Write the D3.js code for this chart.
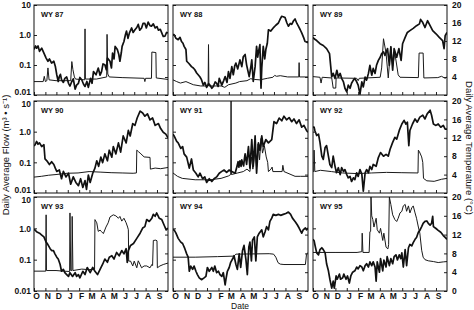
<!DOCTYPE html>
<html>
<head>
<meta charset="utf-8">
<script src="https://cdnjs.cloudflare.com/ajax/libs/d3/7.8.5/d3.min.js"></script>
<style>
    body { margin: 0; background: #fff; }
    svg { display: block; }
    text { font-family: "Liberation Sans", Arial, sans-serif; }
</style>
</head>
<body>
<div id="chart"></div>
<script>
// water years and axis labels
var years = ["WY 87", "WY 88", "WY 89", "WY 90", "WY 91", "WY 92", "WY 93", "WY 94", "WY 95"];
var months = ["O", "N", "D", "J", "F", "M", "A", "M", "J", "J", "A", "S"];
var monthStarts = [0, 31, 61, 92, 123, 151, 182, 212, 243, 273, 304, 335];
var flowTicks = [0.01, 0.1, 1, 10];
var flowTickLabels = ["0.01", "0.1", "1.0", "10"];
var tempTicks = [0, 4, 8, 12, 16, 20];

// daily average temperature (deg C), [day of water year, value]
var temp87 = [[0,10.1],[4,10.9],[7,10.4],[11,10.9],[15,9.7],[21,10.4],[27,9.3],[33,8.2],[38,7.5],[42,8.0],[48,7.1],[54,7.5],[58,6.4],[62,4.5],[66,3.0],[69,4.1],[72,4.6],[75,3.4],[80,2.8],[84,3.7],[89,4.0],[94,2.6],[98,2.0],[103,3.0],[107,3.6],[112,1.3],[116,2.2],[121,2.6],[125,3.9],[130,3.4],[135,2.4],[139,1.9],[144,3.0],[148,1.7],[154,3.7],[158,2.6],[162,5.2],[169,4.5],[175,6.0],[180,4.4],[184,5.2],[188,6.9],[193,6.7],[197,5.6],[200,8.2],[207,7.5],[211,6.0],[214,9.3],[218,8.0],[221,10.8],[227,10.1],[231,9.0],[234,7.5],[238,9.5],[240,10.8],[245,11.9],[249,13.4],[252,14.2],[256,12.6],[260,13.8],[266,14.9],[270,13.9],[275,14.5],[280,15.0],[284,15.7],[288,14.4],[293,14.9],[297,15.9],[302,15.9],[306,14.9],[311,16.2],[316,15.4],[320,15.3],[325,15.8],[330,14.9],[335,15.2],[339,14.4],[344,14.6],[348,13.8],[352,13.0],[357,13.1],[361,13.9],[365,13.8]];
var temp88 = [[0,13.4],[3,13.4],[8,12.6],[14,12.3],[19,12.8],[23,11.9],[27,11.5],[30,10.8],[35,10.1],[37,7.5],[43,7.0],[50,6.3],[55,6.0],[59,5.6],[64,4.9],[68,4.5],[73,4.0],[77,3.4],[82,2.2],[86,2.8],[91,1.7],[96,2.5],[100,2.2],[105,1.5],[109,1.9],[114,2.9],[118,2.6],[122,1.9],[125,3.7],[132,2.2],[137,3.2],[141,4.1],[146,2.8],[150,5.2],[154,3.7],[159,6.3],[163,4.5],[167,6.5],[170,7.1],[175,5.8],[181,7.8],[186,6.3],[190,8.5],[195,9.0],[199,6.7],[203,5.2],[206,4.1],[210,6.0],[213,7.8],[217,3.0],[222,6.3],[226,10.8],[229,8.4],[231,9.5],[235,11.2],[237,4.0],[238,1.5],[240,6.0],[244,10.8],[248,8.0],[251,10.1],[255,11.5],[258,14.5],[264,14.2],[271,14.9],[278,15.5],[285,16.0],[290,16.9],[294,17.5],[298,17.4],[303,17.2],[308,16.0],[312,15.3],[317,15.9],[321,15.7],[326,16.5],[330,16.9],[335,15.9],[339,15.3],[344,14.5],[348,13.8],[353,12.8],[357,11.9],[361,11.8],[365,11.6]];
var temp89 = [[0,12.8],[3,12.5],[10,12.1],[19,11.4],[28,11.0],[37,10.3],[45,9.2],[48,6.6],[51,4.0],[55,4.8],[60,3.7],[65,5.5],[69,4.0],[74,4.8],[78,3.7],[83,2.9],[87,1.5],[92,0.7],[96,2.2],[101,1.5],[105,2.6],[110,3.3],[114,3.7],[119,2.9],[123,2.2],[128,0.2],[133,2.9],[137,1.8],[142,4.0],[146,3.3],[151,4.8],[155,6.6],[160,4.4],[164,5.9],[169,4.8],[173,6.6],[178,7.7],[183,8.4],[187,9.2],[192,9.6],[196,8.8],[203,10.3],[208,6.6],[212,10.6],[217,5.5],[221,10.3],[228,8.4],[234,10.3],[240,7.7],[244,11.4],[251,12.8],[257,13.9],[264,14.3],[273,14.8],[282,15.4],[290,15.8],[293,16.8],[299,16.1],[305,15.0],[312,16.5],[319,15.4],[326,14.3],[335,13.6],[344,12.8],[353,12.1],[357,10.3],[360,13.2],[365,13.9]];
var temp90 = [[0,10.2],[3,10.5],[7,11.2],[11,10.6],[15,10.9],[21,10.1],[27,10.5],[30,7.4],[35,7.0],[42,6.2],[48,6.8],[54,6.2],[58,5.4],[62,4.7],[69,5.0],[75,3.1],[80,4.7],[87,3.5],[94,4.3],[100,1.9],[107,3.5],[114,2.3],[121,1.6],[127,3.1],[133,1.2],[139,2.7],[143,0.8],[148,3.9],[153,2.3],[160,4.3],[166,5.4],[171,7.0],[176,5.8],[182,7.8],[187,6.6],[193,8.5],[200,7.0],[205,9.3],[212,7.8],[216,10.1],[223,8.5],[230,10.9],[236,8.9],[243,12.4],[251,10.9],[257,13.6],[262,12.4],[269,15.1],[275,14.7],[281,16.3],[289,17.8],[296,17.4],[302,16.7],[309,17.2],[316,15.9],[323,16.3],[330,14.7],[339,15.1],[345,14.0],[352,13.2],[359,12.8],[365,12.0]];
var temp91 = [[0,12.8],[3,12.4],[10,11.2],[14,10.9],[21,9.7],[26,10.1],[30,8.5],[37,7.8],[44,5.4],[50,7.4],[55,5.0],[62,4.3],[68,3.5],[73,4.3],[80,3.1],[86,3.5],[91,2.3],[98,3.1],[105,2.5],[111,3.1],[118,3.5],[125,4.3],[132,4.7],[138,5.0],[145,4.5],[152,5.0],[159,4.7],[168,4.3],[172,5.5],[176,6.8],[178,5.6],[181,7.0],[184,5.8],[186,7.2],[188,6.6],[191,5.9],[193,7.4],[195,8.5],[199,6.2],[204,10.1],[208,5.4],[213,11.6],[217,5.8],[222,12.4],[226,4.3],[231,10.9],[235,9.3],[240,12.4],[244,10.1],[251,11.6],[258,10.9],[267,11.6],[273,15.5],[280,15.1],[287,16.3],[294,15.7],[300,16.7],[307,15.9],[314,16.4],[321,15.5],[327,16.1],[334,15.1],[341,15.9],[348,14.3],[354,14.7],[361,13.6],[365,13.2]];
var temp92 = [[0,14.3],[3,14.3],[5,13.6],[10,12.5],[15,12.8],[19,11.0],[24,8.0],[28,7.3],[33,9.9],[37,10.3],[42,8.0],[46,6.2],[51,5.5],[55,8.0],[60,5.8],[64,4.4],[69,5.5],[74,4.0],[78,5.5],[83,4.7],[87,5.1],[92,4.0],[96,3.3],[101,3.6],[105,2.5],[110,3.3],[114,2.9],[119,4.4],[123,3.6],[128,5.1],[133,4.1],[137,0.4],[142,4.4],[146,5.1],[151,4.4],[155,5.8],[160,5.1],[164,6.2],[172,5.8],[178,7.7],[184,8.8],[192,8.0],[199,8.4],[205,8.0],[210,9.5],[217,11.0],[223,12.1],[228,11.7],[235,13.6],[242,15.0],[248,15.8],[253,15.0],[257,15.4],[261,10.3],[264,13.6],[271,15.0],[278,16.1],[284,15.4],[291,16.5],[299,16.9],[305,16.1],[311,17.2],[319,18.0],[323,16.9],[328,15.0],[335,14.7],[341,15.0],[348,14.3],[355,14.7],[360,13.9],[365,13.9]];
var temp93 = [[0,13.0],[3,13.0],[7,12.6],[15,12.3],[21,11.9],[27,11.5],[33,10.4],[36,10.1],[39,9.7],[44,9.0],[48,8.6],[53,8.6],[57,7.9],[62,7.2],[66,6.8],[71,5.7],[75,4.2],[80,4.6],[84,3.9],[89,3.5],[94,3.1],[98,3.9],[105,3.1],[112,3.9],[116,3.1],[121,3.5],[125,2.8],[133,4.2],[139,3.5],[145,5.0],[153,3.9],[160,5.0],[166,4.2],[173,3.5],[180,4.6],[187,5.7],[193,6.8],[200,6.1],[205,7.2],[212,7.5],[218,6.8],[225,8.2],[232,7.5],[239,8.6],[245,7.9],[251,9.0],[254,6.1],[257,8.6],[263,9.7],[271,10.1],[280,11.2],[289,12.3],[296,13.4],[302,13.7],[307,15.2],[314,14.8],[321,15.5],[325,16.3],[330,15.9],[334,16.6],[341,15.5],[348,15.2],[354,14.1],[360,13.0],[365,13.4]];
var temp94 = [[0,13.0],[3,13.0],[8,12.3],[14,11.2],[21,10.4],[26,10.1],[32,9.0],[37,7.9],[41,7.2],[44,4.2],[48,5.3],[53,4.6],[57,5.3],[62,4.2],[66,3.5],[71,2.8],[77,2.4],[84,2.8],[89,3.1],[93,5.0],[98,4.2],[105,5.0],[109,4.2],[113,5.3],[118,3.9],[123,4.2],[127,3.5],[132,3.1],[136,3.9],[141,1.3],[143,2.4],[147,4.2],[152,5.0],[156,6.1],[161,6.8],[165,7.5],[170,5.7],[174,4.6],[179,7.9],[183,5.0],[188,8.6],[192,9.7],[197,6.8],[201,3.5],[205,9.3],[208,10.4],[212,6.4],[215,10.8],[220,11.5],[224,6.4],[228,11.5],[233,12.3],[240,13.0],[244,11.5],[249,12.6],[253,13.7],[258,13.0],[262,14.8],[267,15.5],[271,16.3],[278,16.1],[285,16.3],[291,16.1],[298,16.3],[305,16.5],[312,16.8],[318,16.3],[323,15.5],[330,14.8],[336,14.1],[341,13.4],[348,12.3],[352,13.0],[358,13.4],[361,13.0],[365,13.4]];
var temp95 = [[0,11.0],[3,10.7],[5,9.9],[10,8.1],[15,7.7],[19,8.8],[24,9.2],[28,8.8],[33,8.1],[37,5.8],[42,4.3],[46,2.5],[51,0.6],[55,2.1],[58,0.6],[63,3.2],[66,2.5],[72,3.6],[75,2.5],[81,2.8],[84,3.6],[90,2.5],[94,3.2],[99,1.7],[103,3.2],[108,4.0],[114,4.3],[119,5.1],[123,4.7],[128,5.4],[133,5.1],[137,4.3],[142,5.4],[146,5.8],[151,5.1],[155,6.2],[160,5.4],[164,6.2],[169,5.1],[172,2.1],[175,6.2],[181,4.0],[184,6.9],[190,4.3],[193,6.6],[199,5.1],[202,7.3],[208,5.4],[212,6.9],[217,5.8],[221,7.3],[226,7.7],[230,6.6],[235,7.7],[239,6.9],[242,8.1],[246,5.1],[251,8.8],[255,5.4],[260,9.2],[264,9.9],[269,9.6],[273,10.3],[278,11.0],[282,11.4],[287,12.5],[291,12.9],[296,13.7],[300,14.4],[305,14.8],[310,14.9],[314,14.4],[319,14.0],[323,14.4],[326,15.9],[328,13.7],[335,13.3],[341,12.9],[348,12.5],[355,11.8],[360,11.4],[365,11.0]];

// daily average flow (m3/s), [day of water year, value]
var flow87 = [[0,0.028],[25,0.028],[28,0.042],[31,0.028],[35,0.03],[38,0.08],[41,0.032],[60,0.03],[100,0.03],[103,0.13],[106,0.07],[110,0.04],[113,0.034],[138,0.032],[139,1.6],[140,0.034],[170,0.034],[198,0.04],[199,1.05],[201,0.05],[205,0.04],[240,0.038],[300,0.036],[302,0.028],[304,0.036],[320,0.036],[321,0.27],[332,0.26],[333,0.037],[365,0.033]];
var flow88 = [[0,0.032],[10,0.028],[20,0.025],[35,0.028],[55,0.022],[75,0.02],[95,0.02],[96,0.48],[97,0.02],[130,0.02],[140,0.018],[150,0.022],[170,0.025],[180,0.028],[200,0.03],[210,0.035],[220,0.033],[235,0.032],[255,0.036],[270,0.039],[275,0.045],[280,0.042],[290,0.044],[310,0.04],[340,0.04],[341,0.12],[342,0.04],[365,0.04]];
var flow89 = [[0,0.041],[19,0.039],[22,0.025],[25,0.039],[51,0.037],[55,0.017],[62,0.017],[63,0.037],[119,0.036],[123,0.03],[126,0.036],[183,0.039],[187,0.08],[192,0.75],[199,0.25],[205,0.037],[212,0.43],[217,0.09],[223,0.25],[232,0.047],[237,0.039],[287,0.038],[289,0.25],[300,0.25],[302,0.037],[340,0.038],[350,0.042],[360,0.036],[365,0.04]];
var flow90 = [[0,0.033],[20,0.035],[40,0.038],[60,0.04],[90,0.044],[120,0.045],[150,0.05],[180,0.048],[210,0.046],[240,0.045],[270,0.044],[279,0.045],[280,0.25],[285,0.22],[289,0.2],[300,0.15],[316,0.145],[317,0.06],[330,0.065],[345,0.062],[365,0.068]];
var flow91 = [[0,0.045],[12,0.035],[25,0.03],[60,0.027],[100,0.027],[130,0.03],[150,0.036],[156,0.04],[157,10],[158,0.04],[175,0.045],[190,0.05],[200,0.06],[208,0.05],[212,0.15],[216,0.06],[222,0.25],[226,0.07],[230,0.4],[234,0.12],[238,0.6],[242,0.2],[247,0.35],[252,0.15],[256,0.1],[258,0.05],[265,0.06],[268,0.07],[270,0.05],[295,0.05],[297,0.08],[300,0.05],[330,0.035],[345,0.035],[365,0.035]];
var flow92 = [[0,0.05],[2,0.05],[3,0.25],[5,0.05],[20,0.055],[50,0.05],[80,0.045],[120,0.043],[160,0.045],[200,0.047],[240,0.046],[286,0.045],[287,0.25],[290,0.22],[296,0.15],[299,0.1],[301,0.03],[310,0.025],[330,0.024],[350,0.028],[365,0.03]];
var flow93 = [[0,0.043],[32,0.043],[33,2.7],[34,0.045],[60,0.045],[80,0.043],[97,0.042],[98,3.1],[100,0.045],[103,0.045],[104,2.4],[106,0.045],[130,0.05],[150,0.048],[165,0.05],[166,1.9],[171,1.5],[175,0.8],[180,0.88],[184,0.78],[189,0.68],[196,1.1],[202,1.5],[207,2.3],[216,2.7],[223,2.5],[230,2.1],[234,2.4],[239,1.7],[245,2.1],[251,1.5],[255,1.1],[257,0.9],[258,0.09],[263,0.09],[269,0.063],[273,0.09],[280,0.055],[284,0.092],[289,0.07],[293,0.055],[300,0.063],[307,0.063],[316,0.055],[321,0.07],[323,0.065],[325,0.41],[332,0.42],[335,0.4],[336,0.055],[343,0.063],[352,0.07],[365,0.078]];
var flow94 = [[0,0.12],[60,0.12],[120,0.125],[165,0.13],[170,0.15],[260,0.155],[272,0.15],[278,0.12],[284,0.08],[290,0.072],[300,0.07],[358,0.07],[361,0.15],[365,0.17]];
var flow95 = [[0,0.17],[60,0.17],[120,0.17],[133,0.18],[134,0.7],[136,0.17],[153,0.17],[155,0.78],[157,0.8],[158,10],[160,2.5],[163,1.9],[166,1.1],[172,2.1],[175,0.9],[181,0.7],[184,1.0],[190,0.41],[193,0.7],[199,0.25],[204,0.22],[206,0.3],[208,10],[212,5.8],[217,2.7],[223,1.9],[228,1.65],[232,2.1],[237,3.1],[242,3.5],[246,5.2],[251,5.8],[255,3.5],[260,5.2],[264,3.1],[269,4.5],[273,5.2],[278,3.1],[282,2.1],[287,1.1],[291,0.7],[296,0.2],[300,0.12],[305,0.1],[314,0.092],[328,0.087],[341,0.081],[355,0.085],[365,0.087]];

var tempSeries = [temp87, temp88, temp89, temp90, temp91, temp92, temp93, temp94, temp95];
var flowSeries = [flow87, flow88, flow89, flow90, flow91, flow92, flow93, flow94, flow95];

// panel grid
var colLeft = [34, 173, 313];
var colRight = [168, 308, 447];
var rowTop = [5, 101, 197];
var rowBottom = [95, 193, 291];

var svg = d3.select("#chart")
    .append("svg")
    .attr("width", 474)
    .attr("height", 310);

years.forEach(function (yr, i) {
    var col = i % 3, row = Math.floor(i / 3);
    var w = colRight[col] - colLeft[col];
    var h = rowBottom[row] - rowTop[row];

    var g = svg.append("g")
        .attr("transform", "translate(" + colLeft[col] + "," + rowTop[row] + ")");

    var x = d3.scaleLinear().domain([0, 365]).range([0, w]);
    var yFlow = d3.scaleLog().domain([0.01, 10]).range([h, 0]);
    var yTemp = d3.scaleLinear().domain([0, 20]).range([h, 0]);

    g.append("clipPath").attr("id", "clip" + i)
        .append("rect").attr("width", w).attr("height", h);

    var plot = g.append("g").attr("clip-path", "url(#clip" + i + ")");

    var flowLine = d3.line()
        .x(function (d) { return x(d[0]); })
        .y(function (d) { return yFlow(d[1]); });
    var tempLine = d3.line()
        .x(function (d) { return x(d[0]); })
        .y(function (d) { return yTemp(d[1]); });

    plot.append("path")
        .datum(flowSeries[i])
        .attr("d", flowLine)
        .attr("fill", "none")
        .attr("stroke", "#1a1a1a")
        .attr("stroke-width", 1);

    plot.append("path")
        .datum(tempSeries[i])
        .attr("d", tempLine)
        .attr("fill", "none")
        .attr("stroke", "#111")
        .attr("stroke-width", 1.7)
        .attr("stroke-linejoin", "round");

    // axes (ticks point inwards)
    var left = g.append("g")
        .call(d3.axisLeft(yFlow)
            .tickValues(flowTicks)
            .tickSize(-3)
            .tickPadding(3)
            .tickFormat(function (d, k) { return col == 0 ? flowTickLabels[k] : ""; }));

    var right = g.append("g")
        .attr("transform", "translate(" + w + ",0)")
        .call(d3.axisRight(yTemp)
            .tickValues(tempTicks)
            .tickSize(-3)
            .tickPadding(5)
            .tickFormat(function (d) {
                if (col != 2) return "";
                if (d == 0 && row < 2) return "";
                return d;
            }));

    var bottom = g.append("g")
        .attr("transform", "translate(0," + h + ")")
        .call(d3.axisBottom(x)
            .tickValues(monthStarts)
            .tickSize(-3)
            .tickFormat(""));

    [left, right, bottom].forEach(function (a) {
        a.select(".domain").remove();
        a.selectAll("line").attr("stroke", "#222");
        a.selectAll("text")
            .attr("font-family", "Liberation Sans, Arial, sans-serif")
            .attr("font-size", 8.5)
            .attr("font-weight", "bold")
            .attr("fill", "#111");
    });

    // keep the stacked "0.01" / "10" labels between rows apart
    left.selectAll("text").attr("dy", function (d) {
        if (d == 0.01 && row < 2) return -0.6;
        if (d == 10 && row > 0) return 5.3;
        return 2.7;
    });

    g.append("rect")
        .attr("width", w)
        .attr("height", h)
        .attr("fill", "none")
        .attr("stroke", "#111")
        .attr("stroke-width", 1);

    g.append("text")
        .attr("x", 7)
        .attr("y", 12)
        .attr("font-size", 7.5)
        .attr("font-weight", "bold")
        .attr("fill", "#111")
        .text(yr);

    if (row == 2) {
        g.selectAll(".month")
            .data(months)
            .enter()
            .append("text")
            .attr("class", "month")
            .attr("x", function (d, k) { return x(monthStarts[k]) + 2.5; })
            .attr("y", h + 8)
            .attr("text-anchor", "middle")
            .attr("font-size", 8.5)
            .attr("font-weight", "bold")
            .attr("fill", "#111")
            .text(function (d) { return d; });
    }
});

// axis titles
svg.append("text")
    .attr("transform", "translate(9,155) rotate(-90)")
    .attr("text-anchor", "middle")
    .attr("font-size", 9.5)
    .attr("fill", "#111")
    .text("Daily Average Flow (m³ • s⁻¹)");

svg.append("text")
    .attr("transform", "translate(466,148) rotate(90)")
    .attr("text-anchor", "middle")
    .attr("font-size", 9.5)
    .attr("fill", "#111")
    .text("Daily Average Temperature (°C)");

svg.append("text")
    .attr("x", 240)
    .attr("y", 309)
    .attr("text-anchor", "middle")
    .attr("font-size", 8.5)
    .attr("fill", "#111")
    .text("Date");
</script>
</body>
</html>
